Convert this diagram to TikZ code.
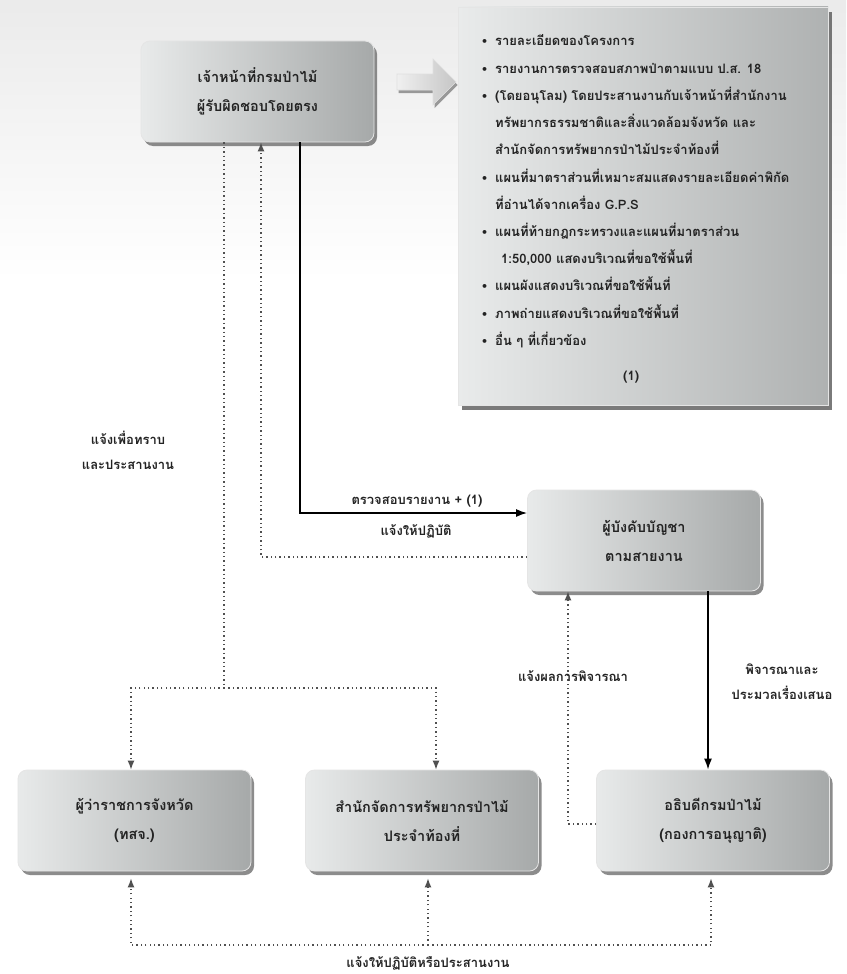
\documentclass[tikz,border=0pt]{standalone}
\usepackage{fontspec}
\newfontfamily\thaifont[Script=Thai]{Loma}
\newfontfamily\symfont{DejaVu Sans}
\usetikzlibrary{arrows.meta,shadows,calc}
\definecolor{boxL}{RGB}{232,234,234}
\definecolor{boxR}{RGB}{166,169,169}
\definecolor{txt}{RGB}{35,35,35}
\definecolor{dotc}{RGB}{80,80,80}
\newcommand{\blt}{\makebox[14pt][l]{\symfont\fontsize{11}{11}\selectfont •}}
\begin{document}
\begin{tikzpicture}[x=1pt,y=-1pt,
  boxst/.style={rectangle, rounded corners=9pt, minimum width=233pt, minimum height=101pt,
    left color=boxL, right color=boxR, draw=white!80!gray, line width=0.8pt,
    align=center, text=txt, font=\thaifont\bfseries\fontsize{14.5}{29}\selectfont,
    drop shadow={shadow xshift=3pt, shadow yshift=-4pt, fill=black!60, opacity=0.75}},
  listst/.style={rectangle, left color=boxL!95!white, right color=boxR!90!white,
    draw=white!80!gray, line width=0.8pt,
    drop shadow={shadow xshift=4pt, shadow yshift=-5pt, fill=black!65, opacity=0.8}},
  lbl/.style={align=center, text=txt, font=\thaifont\bfseries\fontsize{13}{25}\selectfont},
  dotln/.style={draw=dotc, line width=1.3pt, dash pattern=on 1.3pt off 3.1pt},
  dotarr/.style={dotln, -{Latex[length=9pt,width=7pt]}},
  solarr/.style={draw=black, line width=1.5pt, -{Latex[length=11pt,width=8pt]}}
]
\path[use as bounding box] (0,0) rectangle (846,974);
\fill[white] (0,0) rectangle (846,974);
\shade[top color=gray!16, bottom color=white] (0,0) rectangle (846,280);

% boxes
\node[boxst] (A) at (257.5,91.5) {เจ้าหน้าที่กรมป่าไม้\\ผู้รับผิดชอบโดยตรง};
\node[listst, minimum width=370pt, minimum height=398pt] (L) at (643,206) {};
\node[boxst] (B) at (644,540.5) {ผู้บังคับบัญชา\\ตามสายงาน};
\node[boxst] (C) at (134.5,820.5) {ผู้ว่าราชการจังหวัด\\(ทสจ.)};
\node[boxst] (D) at (422,820.5) {สำนักจัดการทรัพยากรป่าไม้\\ประจำท้องที่};
\node[boxst] (E) at (713,820.5) {อธิบดีกรมป่าไม้\\(กองการอนุญาติ)};

% list text
\node[anchor=base west, inner sep=0pt, text=txt] (LT) at (481,46) {\begin{minipage}[t]{360pt}\thaifont\bfseries\fontsize{13}{27.2}\selectfont
\blt รายละเอียดของโครงการ\\
\blt รายงานการตรวจสอบสภาพป่าตามแบบ ป.ส. 18\\
\blt (โดยอนุโลม) โดยประสานงานกับเจ้าหน้าที่สำนักงาน\\
\hspace*{14pt}ทรัพยากรธรรมชาติและสิ่งแวดล้อมจังหวัด และ\\
\hspace*{14pt}สำนักจัดการทรัพยากรป่าไม้ประจำท้องที่\\
\blt แผนที่มาตราส่วนที่เหมาะสมแสดงรายละเอียดค่าพิกัด\\
\hspace*{14pt}ที่อ่านได้จากเครื่อง G.P.S\\
\blt แผนที่ท้ายกฎกระทรวงและแผนที่มาตราส่วน\\
\hspace*{20pt}1:50,000 แสดงบริเวณที่ขอใช้พื้นที่\\
\blt แผนผังแสดงบริเวณที่ขอใช้พื้นที่\\
\blt ภาพถ่ายแสดงบริเวณที่ขอใช้พื้นที่\\
\blt อื่น ๆ ที่เกี่ยวข้อง\\[8pt]
\hspace*{142pt}(1)
\end{minipage}};

% block arrow A -> L
\path[left color=white!88!gray, right color=gray!45, draw=white!75!gray, line width=0.6pt,
  drop shadow={shadow xshift=1.5pt, shadow yshift=-3pt, fill=black!55, opacity=0.7}]
  (397,74) -- (433,74) -- (433,59) -- (456,82) -- (433,105) -- (433,90) -- (397,90) -- cycle;

% helper coordinates
\coordinate (x224) at (224,0);
\coordinate (x261) at (261,0);
\coordinate (x300) at (300,0);
\coordinate (x568) at (568,0);
\coordinate (x708) at (708,0);
\coordinate (j1) at (224,688);
\coordinate (j2) at (428,945);
\coordinate (Ds) at ([yshift=-7pt]D.south);

% connectors
\draw[dotln] (A.south -| x224) -- (j1);
\draw[dotarr] (j1) -| ([xshift=-3.5pt]C.north);
\draw[dotarr] (j1) -| ([xshift=14pt]D.north);
\draw[dotarr] ([yshift=-16.5pt]B.west) -| (A.south -| x261);
\draw[solarr] (A.south -| x300) |- ([yshift=27.5pt]B.west);
\draw[solarr] (B.south -| x708) -- (E.north -| x708);
\draw[dotarr] ([yshift=-3.5pt]E.west) -| (B.south -| x568);
\draw[dotarr] (j2) -| ([xshift=-3.5pt,yshift=-7pt]C.south);
\draw[dotarr] (j2) -- (Ds -| j2);
\draw[dotarr] (j2) -| ([xshift=-2pt,yshift=-7pt]E.south);

% labels
\node[lbl] (l1) at (417,501) {ตรวจสอบรายงาน + (1)};
\node[lbl] (l2) at (416,531) {แจ้งให้ปฏิบัติ};
\node[lbl] (l3) at (128,450) {แจ้งเพื่อทราบ\\และประสานงาน};
\node[lbl] (l4) at (573,676) {แจ้งผลการพิจารณา};
\node[lbl] (l5) at (782,682) {พิจารณาและ\\ประมวลเรื่องเสนอ};
\node[lbl] (l6) at (428,963) {แจ้งให้ปฏิบัติหรือประสานงาน};
\end{tikzpicture}
\end{document}
